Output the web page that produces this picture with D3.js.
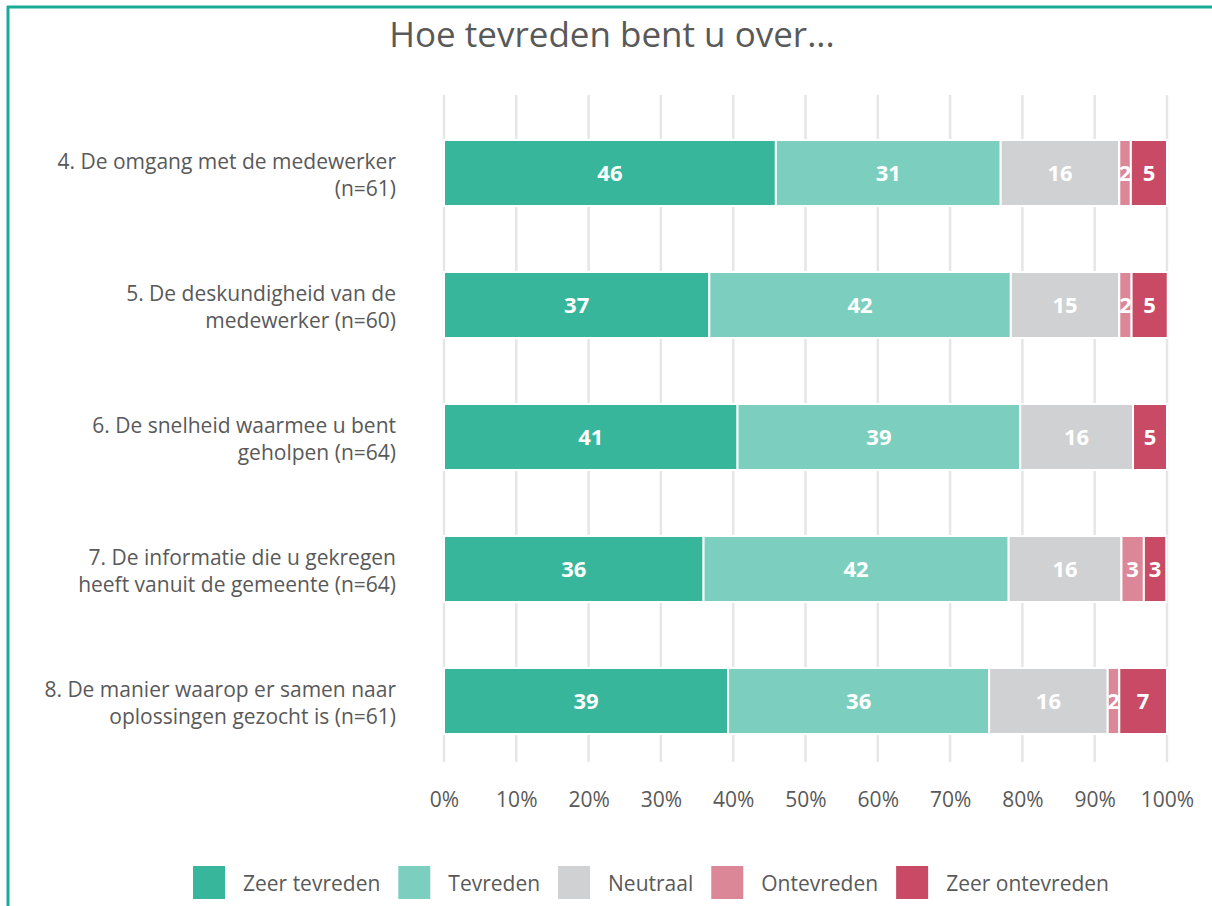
<!DOCTYPE html>
<html>
<head>
<meta charset="utf-8">
<script src="https://cdn.jsdelivr.net/npm/d3@7"></script>
<style>
  body { margin: 0; background: #fff; }
  svg { display: block; font-family: "Open Sans", sans-serif; }
</style>
</head>
<body>
<svg id="chart" width="1212" height="906"></svg>
<script>
// questions (top to bottom)
const questions = [
  ["4. De omgang met de medewerker", "(n=61)"],
  ["5. De deskundigheid van de", "medewerker (n=60)"],
  ["6. De snelheid waarmee u bent", "geholpen (n=64)"],
  ["7. De informatie die u gekregen", "heeft vanuit de gemeente (n=64)"],
  ["8. De manier waarop er samen naar", "oplossingen gezocht is (n=61)"]
];
const answers = ["Zeer tevreden", "Tevreden", "Neutraal", "Ontevreden", "Zeer ontevreden"];
const colors = ["#38b69b", "#7ccfbf", "#cfd1d2", "#dc8797", "#c84a65"];

// percentages per answer, one value per question
const zeerTevreden   = [45.9, 36.7, 40.6, 35.9, 39.3];
const tevreden       = [31.1, 41.7, 39.1, 42.2, 36.1];
const neutraal       = [16.4, 15.0, 15.6, 15.6, 16.4];
const ontevreden     = [1.6, 1.7, 0, 3.1, 1.6];
const zeerOntevreden = [5.0, 5.0, 4.7, 3.1, 6.6];

const ticks = [0, 10, 20, 30, 40, 50, 60, 70, 80, 90, 100];

const rows = questions.map((q, i) => ({
  q: i,
  vals: [zeerTevreden[i], tevreden[i], neutraal[i], ontevreden[i], zeerOntevreden[i]]
}));

const svg = d3.select("#chart");
const x = d3.scaleLinear().domain([0, 100]).range([444, 1167]);
const y = d3.scaleBand().domain(d3.range(questions.length)).range([107, 767])
  .paddingInner(0.5).paddingOuter(0.25);

// frame
svg.append("line").attr("x1", 7).attr("x2", 1212).attr("y1", 7).attr("y2", 7)
  .style("stroke", "#1aab95").style("stroke-width", 3);
svg.append("line").attr("x1", 8).attr("x2", 8).attr("y1", 6).attr("y2", 906)
  .style("stroke", "#1aab95").style("stroke-width", 3);

// title
svg.append("text").attr("x", 612).attr("y", 47)
  .attr("text-anchor", "middle")
  .style("font-size", "35px").style("fill", "#595959")
  .text("Hoe tevreden bent u over...");

// gridlines
svg.append("g").selectAll("line").data(ticks).enter().append("line")
  .attr("x1", d => x(d)).attr("x2", d => x(d))
  .attr("y1", 95).attr("y2", 762)
  .style("stroke", "#e6e6e6").style("stroke-width", 2.5);

// x axis labels
const xAxis = svg.append("g").attr("transform", "translate(0,789)")
  .call(d3.axisBottom(x).tickValues(ticks).tickFormat(d => d + "%").tickSize(0));
xAxis.select(".domain").remove();
xAxis.selectAll("text")
  .style("font-size", "21px").style("fill", "#595959")
  .style("font-family", "'Open Sans', sans-serif");

// bars
const stackRows = rows.map(r => {
  let acc = 0;
  return r.vals.map((v, k) => {
    const seg = { q: r.q, k: k, v: v, x0: acc, x1: acc + v };
    acc += v;
    return seg;
  });
});

const barG = svg.append("g").selectAll("g").data(stackRows).enter().append("g");
barG.selectAll("rect").data(d => d.filter(s => s.v > 0)).enter().append("rect")
  .attr("x", d => x(d.x0))
  .attr("y", d => y(d.q))
  .attr("width", d => x(d.x1) - x(d.x0))
  .attr("height", y.bandwidth())
  .style("fill", d => colors[d.k])
  .style("stroke", "#fff")
  .style("stroke-width", 2);

barG.selectAll("text").data(d => d.filter(s => s.v > 0)).enter().append("text")
  .attr("x", d => (x(d.x0) + x(d.x1)) / 2)
  .attr("y", d => y(d.q) + y.bandwidth() / 2)
  .attr("dy", "0.36em")
  .attr("text-anchor", "middle")
  .style("font-size", "22px").style("font-weight", "bold").style("fill", "#fff")
  .text(d => Math.round(d.v));

// category labels, one text per line
const catG = svg.append("g").selectAll("g").data(questions).enter().append("g");
catG.selectAll("text").data((d, i) => d.map(line => ({ line: line, i: i }))).enter().append("text")
  .attr("x", 396)
  .attr("y", (d, j) => y(d.i) + y.bandwidth() / 2 - 4.5 + j * 27)
  .attr("text-anchor", "end")
  .style("font-size", "21px").style("fill", "#595959")
  .text(d => d.line);

// legend
const legend = svg.append("g");
let lx = 193;
answers.forEach((a, k) => {
  legend.append("rect").attr("x", lx).attr("y", 866).attr("width", 32).attr("height", 33)
    .style("fill", colors[k]);
  const t = legend.append("text").attr("x", lx + 50).attr("y", 883).attr("dy", "0.36em")
    .style("font-size", "21px").style("fill", "#595959").text(a);
  lx += 50 + t.node().getComputedTextLength() + 18;
});
</script>
</body>
</html>
